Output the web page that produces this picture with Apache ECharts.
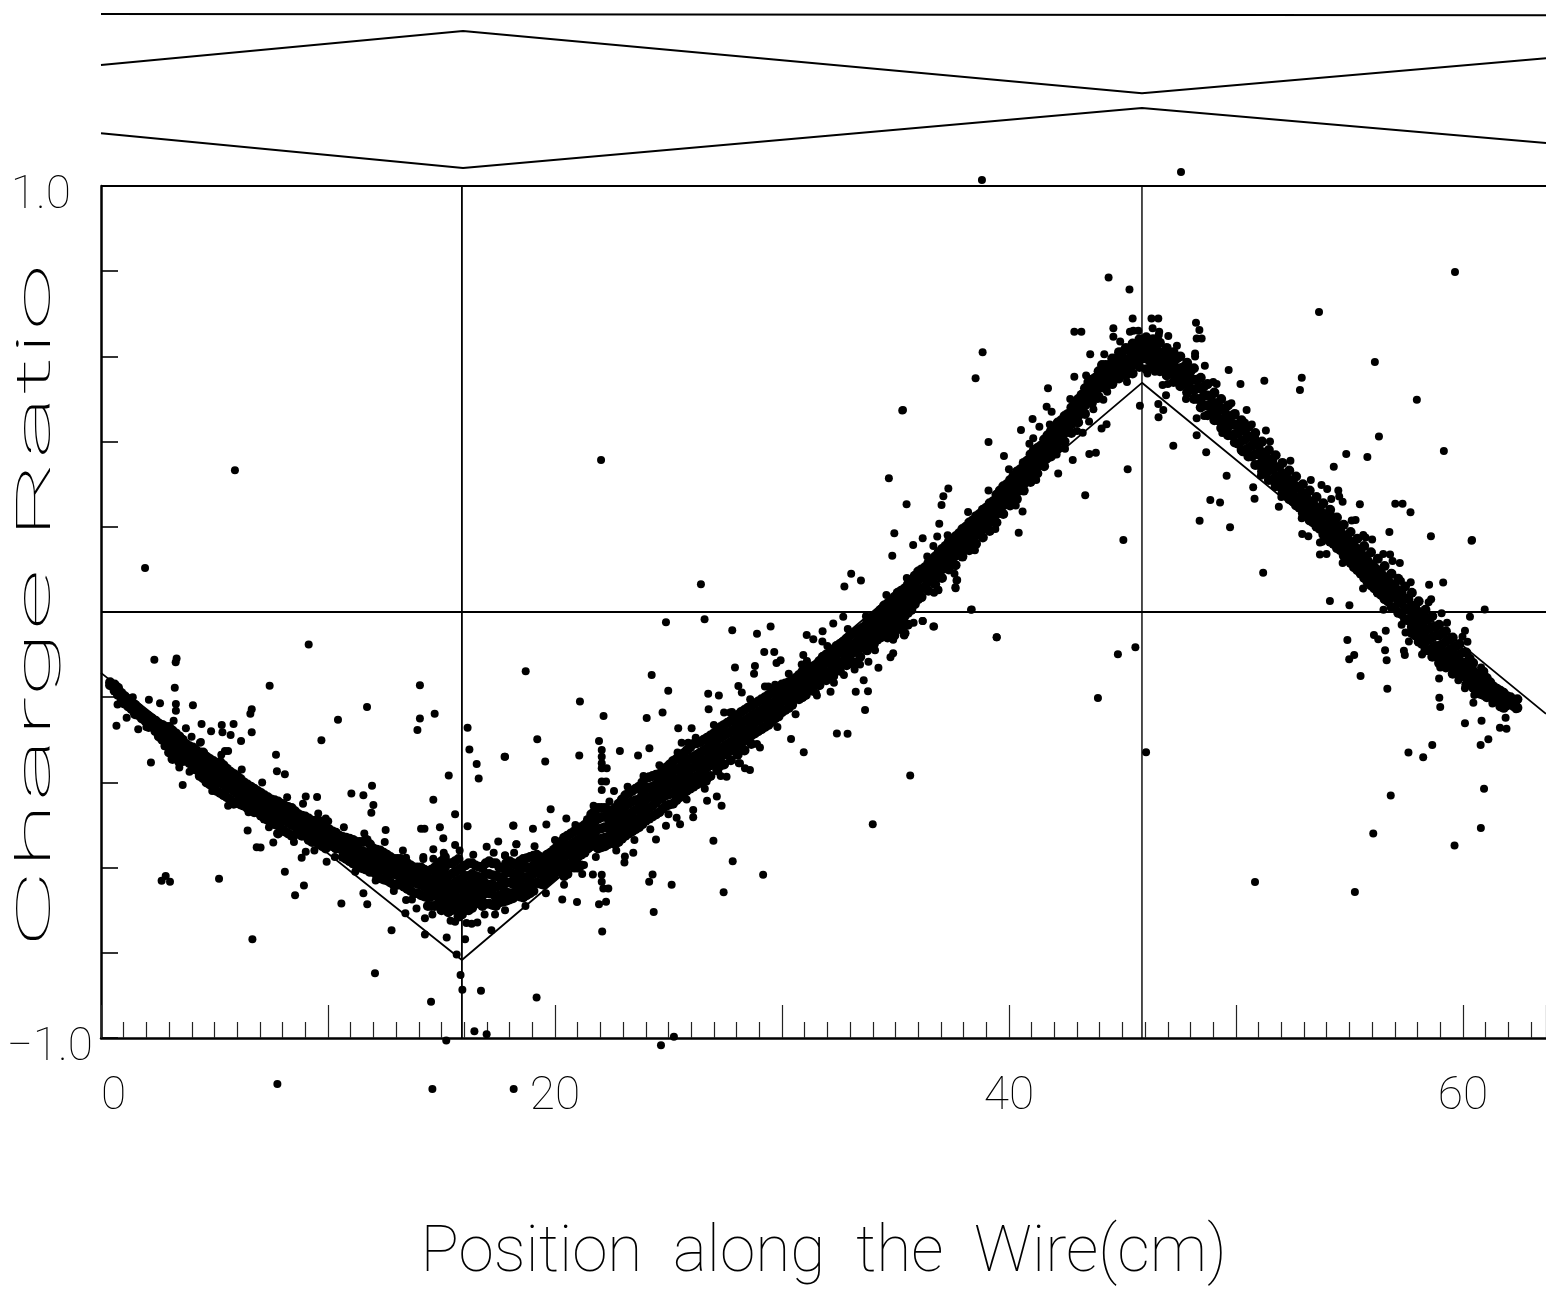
<!DOCTYPE html>
<html><head><meta charset="utf-8">
<style>html,body{margin:0;padding:0;background:#fff}#c{width:1546px;height:1297px}</style>
<script src="https://cdn.jsdelivr.net/npm/echarts@6/dist/echarts.min.js"></script>
</head><body><div id="c"></div>
<script>
const xTitle = "Position  along  the  Wire(cm)";
const yTitle = "Charge Ratio";
const xTickLabels = [0, 20, 40, 60];
const yTickLabels = [-1, 1];
const vLines = [15.9, 45.86];
const fitLine = [[0,-.143],[15.9,-.817],[45.86,.538],[63.66,-.239]];
const topLine1 = [[0,1.404],[63.66,1.401]];
const topLine2 = [[0,1.284],[15.95,1.364],[45.86,1.218],[63.66,1.30]];
const topLine3 = [[0,1.124],[15.95,1.042],[45.86,1.183],[63.66,1.101]];

// dense ridge, per column: [x, y, y, ...]
const bandLeft = [[.4,-.165,-.172],[.6,-.17,-.185],[.9,-.19,-.2,-.212],[1.2,-.205,-.222],[1.5,-.218,-.232,-.24],[1.8,-.235,-.25],[2.1,-.245,-.26,-.27],[2.4,-.255,-.27,-.28],[2.7,-.265,-.285,-.3],[3,-.27,-.285,-.305,-.33],[3.3,-.285,-.3,-.32,-.34],[3.6,-.3,-.32,-.335,-.35],[3.9,-.315,-.33,-.355],[4.2,-.325,-.345,-.36,-.37],[4.5,-.33,-.355,-.37,-.39],[4.8,-.345,-.365,-.385,-.405],[5.1,-.36,-.38,-.395,-.42],[5.4,-.36,-.385,-.405,-.43],[5.7,-.375,-.395,-.41,-.44],[6,-.385,-.405,-.425,-.445],[6.3,-.4,-.415,-.435,-.455],[6.6,-.41,-.43,-.445,-.465],[6.9,-.42,-.44,-.455,-.47],[7.2,-.43,-.445,-.46,-.485],[7.5,-.44,-.455,-.47,-.49],[7.8,-.445,-.46,-.48,-.5,-.52],[8.1,-.455,-.475,-.49,-.515],[8.4,-.46,-.48,-.5,-.525],[8.7,-.475,-.49,-.505,-.52],[9,-.48,-.495,-.51,-.525],[9.3,-.49,-.505,-.52,-.54],[9.6,-.49,-.51,-.53,-.545],[9.9,-.51,-.525,-.54,-.555],[10.2,-.515,-.535,-.55],[10.5,-.525,-.54,-.555],[10.8,-.53,-.55,-.565,-.58],[11.1,-.535,-.555,-.57,-.59],[11.4,-.54,-.56,-.58,-.6],[11.7,-.535,-.565,-.585,-.605],[12,-.555,-.575,-.59,-.61],[12.3,-.56,-.58,-.6,-.625],[12.6,-.57,-.59,-.61,-.63],[12.9,-.58,-.595,-.615,-.64],[13.2,-.58,-.6,-.62,-.64],[13.5,-.59,-.61,-.63,-.65],[13.8,-.6,-.615,-.635,-.66],[14.1,-.6,-.62,-.64,-.665],[14.4,-.61,-.63,-.65,-.67,-.69],[14.7,-.6,-.625,-.645,-.665,-.69]];
const bandValley = [[15,-.585,-.61,-.635,-.66,-.68,-.7],[15.3,-.59,-.62,-.64,-.66,-.685,-.705],[15.6,-.585,-.61,-.635,-.655,-.675,-.695],[15.9,-.6,-.625,-.65,-.67,-.69,-.71],[16.2,-.59,-.62,-.645,-.665,-.685,-.7],[16.5,-.595,-.62,-.64,-.66,-.685],[16.8,-.6,-.625,-.645,-.665,-.69],[17.1,-.585,-.615,-.64,-.66,-.685],[17.4,-.59,-.62,-.645,-.67,-.69],[17.7,-.6,-.625,-.645,-.665,-.68],[18,-.585,-.61,-.635,-.66,-.675],[18.3,-.595,-.62,-.64,-.655],[18.6,-.58,-.6,-.625,-.65,-.67],[18.9,-.575,-.6,-.62,-.64,-.66],[19.2,-.57,-.59,-.61,-.635],[19.5,-.58,-.6,-.62,-.64],[19.8,-.565,-.585,-.605,-.625]];
const bandRise = [[20.1,-.55,-.575,-.595,-.61],[20.4,-.53,-.55,-.575,-.6,-.62],[20.7,-.52,-.545,-.565,-.59],[21,-.51,-.535,-.555,-.575,-.6],[21.3,-.5,-.52,-.545,-.565],[21.6,-.475,-.5,-.525,-.55],[21.9,-.46,-.485,-.51,-.535,-.555],[22.2,-.46,-.48,-.505,-.53,-.55],[22.5,-.47,-.49,-.51,-.53],[22.8,-.45,-.47,-.495,-.52,-.54],[23.1,-.43,-.455,-.48,-.505,-.525],[23.4,-.42,-.445,-.47,-.49,-.515],[23.7,-.41,-.44,-.46,-.485,-.505],[24,-.39,-.415,-.44,-.465,-.49],[24.3,-.385,-.41,-.43,-.455,-.48],[24.6,-.38,-.4,-.42,-.44,-.47],[24.9,-.365,-.39,-.41,-.43,-.455],[25.2,-.35,-.375,-.4,-.425,-.45],[25.5,-.34,-.365,-.39,-.41,-.435],[25.8,-.325,-.35,-.375,-.395,-.42],[26.1,-.31,-.34,-.365,-.39,-.41],[26.4,-.305,-.33,-.355,-.38,-.4],[26.7,-.295,-.32,-.345,-.365,-.39],[27,-.285,-.305,-.33,-.355],[27.3,-.27,-.295,-.32,-.34,-.36],[27.6,-.26,-.285,-.31,-.33],[27.9,-.25,-.275,-.3,-.32],[28.2,-.235,-.26,-.285,-.31],[28.5,-.225,-.25,-.275,-.295],[28.8,-.215,-.24,-.26,-.285],[29.1,-.205,-.23,-.25,-.275],[29.4,-.195,-.22,-.24,-.265],[29.7,-.185,-.21,-.23,-.25],[30,-.17,-.19,-.21,-.235],[30.3,-.165,-.185,-.205,-.225],[30.6,-.155,-.175,-.195],[30.9,-.14,-.16,-.18,-.2],[31.2,-.13,-.15,-.17],[31.5,-.125,-.145,-.165],[31.8,-.105,-.125,-.145],[32.1,-.095,-.115,-.14],[32.4,-.08,-.1,-.125],[32.7,-.07,-.09,-.115],[33,-.055,-.08,-.1,-.12],[33.3,-.045,-.07,-.09],[33.6,-.035,-.055,-.08],[33.9,-.015,-.04,-.06,-.08],[34.2,-.005,-.025,-.05,-.065],[34.5,.015,-.01,-.03,-.05],[34.8,.025,.005,-.02,-.04],[35.1,.045,.02,0,-.02,-.04],[35.4,.055,.035,.01,-.01,-.05],[35.7,.075,.05,.03,.005],[36,.095,.075,.05,.03],[36.3,.105,.085,.06],[36.6,.12,.1,.08],[36.9,.14,.115,.09],[37.2,.155,.13,.11],[37.5,.17,.15,.125],[37.8,.185,.16,.14],[38.1,.2,.18,.155],[38.4,.215,.195,.17],[38.7,.23,.21,.19],[39,.245,.225,.2],[39.3,.26,.24,.22],[39.6,.285,.265,.24],[39.9,.3,.28,.26],[40.2,.32,.295,.275],[40.5,.335,.315,.29],[40.8,.355,.335,.31],[41.1,.38,.355,.335],[41.4,.39,.37,.35],[41.7,.415,.39,.37],[42,.435,.415,.395],[42.3,.45,.43,.41],[42.6,.465,.45,.43],[42.9,.49,.47,.45],[43.2,.51,.49,.47],[43.5,.54,.52,.5],[43.8,.55,.535,.52],[44.1,.58,.565,.55,.53],[44.4,.58,.565,.55],[44.7,.595,.575,.555],[45,.61,.59,.57],[45.3,.615,.595,.575],[45.6,.625,.605,.585],[45.9,.635,.615,.595]];
const bandFall = [[46.2,.63,.61,.59],[46.5,.62,.6,.58],[46.8,.61,.59,.57],[47.1,.6,.58,.56],[47.4,.595,.57,.55],[47.7,.575,.555,.535],[48,.565,.545,.525],[48.3,.545,.525,.5],[48.6,.53,.51,.485],[48.9,.505,.485,.465],[49.2,.49,.47,.45],[49.5,.475,.455,.435],[49.8,.46,.44,.415],[50.1,.44,.42,.395],[50.4,.425,.405,.38],[50.7,.41,.39,.365],[51,.39,.37,.345],[51.3,.37,.345,.325],[51.6,.355,.335,.31],[51.9,.34,.315,.295],[52.2,.32,.3,.28],[52.5,.305,.285,.26],[52.8,.29,.265,.245],[53.1,.27,.25,.225],[53.4,.255,.235,.21],[53.7,.24,.215,.195],[54,.225,.2,.175],[54.3,.205,.18,.16],[54.6,.19,.165,.145],[54.9,.175,.15,.125],[55.2,.155,.13,.105],[55.5,.14,.115,.09],[55.8,.12,.095,.07],[56.1,.105,.08,.055],[56.4,.09,.065,.04],[56.7,.075,.05,.025],[57,.06,.035,.01],[57.3,.045,.02,-.005],[57.6,.03,.005,-.02],[57.9,.01,-.015,-.04,-.055],[58.2,-.005,-.03,-.055,-.075],[58.5,-.015,-.04,-.065,-.09],[58.8,-.035,-.055,-.08,-.1],[59.1,-.05,-.075,-.095,-.11],[59.4,-.065,-.09,-.11,-.125],[59.7,-.08,-.105,-.125,-.14],[60,-.095,-.12,-.14,-.15],[60.3,-.11,-.13,-.15,-.16],[60.6,-.145,-.16,-.18],[60.9,-.14,-.17,-.195],[61.2,-.165,-.185,-.19],[61.5,-.18,-.195,-.205],[61.8,-.19,-.21,-.225],[62.1,-.2,-.215],[62.4,-.205,-.225]];
const fillLeft = [[.75,-.178,-.195],[1.05,-.198,-.215],[1.35,-.212,-.228],[1.65,-.226,-.242],[1.95,-.24,-.255],[2.25,-.25,-.268],[2.55,-.262,-.278,-.292],[2.85,-.27,-.295,-.312],[3.15,-.278,-.295,-.315,-.345],[3.45,-.292,-.31,-.33,-.352],[3.75,-.31,-.325,-.345],[4.05,-.318,-.338,-.36],[4.35,-.33,-.35,-.368,-.385],[4.65,-.34,-.36,-.38,-.4],[4.95,-.35,-.372,-.39,-.41],[5.25,-.352,-.375,-.4,-.425],[5.55,-.368,-.39,-.415,-.435],[5.85,-.38,-.4,-.42,-.45],[6.15,-.392,-.41,-.43,-.452],[6.45,-.405,-.422,-.44,-.46],[6.75,-.415,-.435,-.45,-.47],[7.05,-.425,-.442,-.46,-.478],[7.35,-.435,-.45,-.468,-.488],[7.65,-.442,-.46,-.478,-.498],[7.95,-.45,-.468,-.485,-.51],[8.25,-.458,-.478,-.495,-.52],[8.55,-.468,-.485,-.502,-.522],[8.85,-.478,-.495,-.51,-.525],[9.15,-.485,-.5,-.515,-.535],[9.45,-.49,-.51,-.525,-.54],[9.75,-.5,-.52,-.535,-.55],[10.05,-.51,-.53,-.545],[10.35,-.518,-.538,-.555],[10.65,-.528,-.545,-.56,-.575],[10.95,-.532,-.552,-.57,-.585],[11.25,-.54,-.558,-.575,-.595],[11.55,-.54,-.562,-.582,-.602],[11.85,-.545,-.57,-.59,-.61],[12.15,-.558,-.578,-.596,-.618],[12.45,-.565,-.585,-.605,-.628],[12.75,-.575,-.592,-.612,-.635],[13.05,-.58,-.598,-.618,-.64],[13.35,-.585,-.605,-.625,-.645],[13.65,-.595,-.612,-.632,-.655],[13.95,-.6,-.618,-.638,-.66],[14.25,-.605,-.625,-.645,-.668],[14.55,-.605,-.628,-.648,-.668,-.69],[14.85,-.59,-.615,-.64,-.662,-.685]];
const fillValley = [[15.15,-.575,-.6,-.625,-.65,-.67,-.695],[15.45,-.59,-.615,-.64,-.66,-.68,-.7],[15.75,-.58,-.605,-.63,-.65,-.672,-.692,-.715],[16.05,-.595,-.62,-.64,-.66,-.68,-.7],[16.35,-.59,-.615,-.635,-.655,-.675,-.695],[16.65,-.598,-.622,-.642,-.662,-.68],[16.95,-.59,-.615,-.638,-.66,-.685],[17.25,-.59,-.618,-.64,-.662,-.688],[17.55,-.6,-.622,-.642,-.665,-.682],[17.85,-.59,-.612,-.635,-.658,-.678],[18.15,-.59,-.615,-.638,-.66,-.672],[18.45,-.585,-.61,-.632,-.652,-.668],[18.75,-.578,-.6,-.622,-.645,-.665],[19.05,-.572,-.595,-.615,-.638,-.655],[19.35,-.575,-.595,-.615,-.638],[19.65,-.57,-.592,-.612,-.632],[19.95,-.558,-.58,-.6,-.62]];
const fillRise = [[20.25,-.54,-.562,-.585,-.605],[20.55,-.525,-.548,-.57,-.595,-.615],[20.85,-.515,-.54,-.56,-.582,-.6],[21.15,-.505,-.528,-.55,-.57,-.595],[21.45,-.488,-.51,-.535,-.555],[21.75,-.468,-.492,-.518,-.542],[22.05,-.46,-.482,-.508,-.532,-.552],[22.35,-.465,-.485,-.508,-.53,-.545],[22.65,-.46,-.48,-.502,-.525,-.545],[22.95,-.44,-.462,-.488,-.512,-.532],[23.25,-.425,-.45,-.475,-.498,-.52],[23.55,-.415,-.442,-.465,-.488,-.51],[23.85,-.4,-.428,-.45,-.475,-.498],[24.15,-.388,-.412,-.435,-.46,-.485],[24.45,-.382,-.405,-.425,-.448,-.475],[24.75,-.372,-.395,-.415,-.435,-.462],[25.05,-.358,-.382,-.405,-.428,-.452],[25.35,-.345,-.37,-.395,-.418,-.442],[25.65,-.332,-.358,-.382,-.402,-.428],[25.95,-.318,-.345,-.37,-.392,-.415],[26.25,-.308,-.335,-.36,-.385,-.405],[26.55,-.3,-.325,-.35,-.372,-.395],[26.85,-.29,-.312,-.338,-.36,-.385],[27.15,-.278,-.3,-.325,-.348,-.372],[27.45,-.265,-.29,-.315,-.335,-.358],[27.75,-.255,-.28,-.305,-.325,-.348],[28.05,-.242,-.268,-.292,-.315,-.335],[28.35,-.23,-.255,-.28,-.302,-.325],[28.65,-.22,-.245,-.268,-.29,-.31],[28.95,-.21,-.235,-.255,-.28],[29.25,-.2,-.225,-.245,-.27],[29.55,-.19,-.215,-.235,-.258],[29.85,-.178,-.2,-.222,-.245],[30.15,-.168,-.188,-.208,-.23],[30.45,-.16,-.18,-.2,-.218],[30.75,-.148,-.168,-.188,-.205],[31.05,-.135,-.155,-.175,-.195],[31.35,-.128,-.148,-.168,-.185],[31.65,-.115,-.135,-.155,-.172],[31.95,-.1,-.12,-.142,-.16],[32.25,-.088,-.108,-.132,-.15],[32.55,-.075,-.095,-.12,-.138],[32.85,-.062,-.085,-.108,-.125],[33.15,-.05,-.075,-.095,-.118],[33.45,-.04,-.062,-.085,-.105],[33.75,-.025,-.048,-.07,-.09],[34.05,-.01,-.032,-.055,-.075],[34.35,.005,-.018,-.04,-.06],[34.65,.02,-.005,-.025,-.045,-.06],[34.95,.035,.012,-.01,-.03,-.055],[35.25,.05,.028,.005,-.015,-.04],[35.55,.065,.042,.02,-.002,-.03],[35.85,.085,.062,.04,.018],[36.15,.1,.08,.055,.035],[36.45,.115,.092,.07,.05],[36.75,.13,.108,.085,.065],[37.05,.148,.122,.1,.08],[37.35,.165,.14,.118,.1],[37.65,.178,.155,.132,.11],[37.95,.195,.17,.148,.13],[38.25,.21,.188,.162,.145],[38.55,.225,.202,.18,.16],[38.85,.24,.218,.195,.175],[39.15,.255,.232,.21,.19],[39.45,.275,.252,.23,.21],[39.75,.295,.272,.25,.23],[40.05,.31,.288,.268,.25],[40.35,.33,.305,.282,.265],[40.65,.35,.325,.3,.285],[40.95,.37,.345,.322,.305],[41.25,.385,.362,.342,.325],[41.55,.405,.38,.36,.342],[41.85,.425,.402,.382,.365],[42.15,.445,.422,.402,.385],[42.45,.46,.44,.42,.4],[42.75,.48,.46,.44,.42],[43.05,.5,.48,.46,.445],[43.35,.525,.505,.485,.465],[43.65,.545,.528,.51,.49],[43.95,.565,.545,.525,.505],[44.25,.58,.562,.54,.525],[44.55,.595,.572,.552,.535],[44.85,.61,.585,.565,.548],[45.15,.62,.592,.572,.555],[45.45,.63,.6,.58,.56],[45.75,.64,.615,.592,.575],[46.05,.645,.618,.595,.57]];
const fillFall = [[46.35,.64,.615,.592,.575],[46.65,.632,.605,.585,.565],[46.95,.62,.595,.575,.555],[47.25,.61,.585,.56,.54],[47.55,.6,.572,.55,.53],[47.85,.585,.558,.535,.515],[48.15,.572,.545,.52,.5],[48.45,.55,.525,.5,.48],[48.75,.535,.508,.485,.462],[49.05,.515,.49,.468,.45],[49.35,.5,.478,.452,.432],[49.65,.485,.46,.435,.415],[49.95,.465,.44,.418,.398],[50.25,.45,.428,.402,.38],[50.55,.435,.412,.385,.365],[50.85,.42,.395,.37,.345],[51.15,.4,.375,.352,.33],[51.45,.38,.358,.332,.31],[51.75,.368,.34,.318,.295],[52.05,.35,.325,.305,.28],[52.35,.332,.31,.288,.265],[52.65,.318,.295,.27,.25],[52.95,.3,.278,.255,.232],[53.25,.285,.26,.24,.215],[53.55,.27,.245,.222,.2],[53.85,.255,.23,.205,.182],[54.15,.24,.212,.188,.165],[54.45,.222,.198,.172,.15],[54.75,.205,.18,.158,.132],[55.05,.188,.165,.14,.115],[55.35,.172,.148,.122,.098],[55.65,.155,.13,.105,.08],[55.95,.14,.112,.088,.062],[56.25,.125,.098,.07,.045],[56.55,.108,.082,.055,.03],[56.85,.09,.065,.04,.012],[57.15,.078,.05,.025,-.002],[57.45,.06,.032,.008,-.018],[57.75,.045,.015,-.01,-.035,-.05],[58.05,.025,0,-.025,-.05,-.07],[58.35,.005,-.02,-.045,-.07,-.09],[58.65,-.01,-.035,-.06,-.085,-.105],[58.95,-.03,-.055,-.08,-.1,-.12],[59.25,-.045,-.07,-.095,-.115,-.13],[59.55,-.06,-.085,-.11,-.13,-.145],[59.85,-.075,-.1,-.125,-.145],[60.15,-.095,-.118,-.14,-.155,-.17],[60.45,-.12,-.138,-.16,-.178],[60.75,-.15,-.175,-.192],[61.05,-.155,-.178,-.2],[61.35,-.175,-.195,-.21],[61.65,-.185,-.205,-.222],[61.95,-.198,-.218],[62.25,-.208,-.222]];
// ragged points along the two edges of the ridge
const bandEdges = [[1.4,-.2],[2,-.27],[2.8,-.315],[3.2,-.255],[3.9,-.375],[4.4,-.305],[4.9,-.42],[5.3,-.335],[5.6,-.455],[6.2,-.37],[6.5,-.47],[7.1,-.4],[7.4,-.505],[8.2,-.435],[8.5,-.54],[8.9,-.45],[9.4,-.56],[9.9,-.485],[10.3,-.575],[10.7,-.505],[11.2,-.61],[11.6,-.52],[12.1,-.63],[12.5,-.54],[12.9,-.655],[13.3,-.56],[13.7,-.675],[14.2,-.58],[14.6,-.71],[15.1,-.565],[15.4,-.725],[15.8,-.56],[16.1,-.73],[16.4,-.57],[16.9,-.71],[17.3,-.565],[17.8,-.7],[18.2,-.565],[18.7,-.69],[19.1,-.55],[19.6,-.66],[20,-.535],[20.4,-.64],[20.9,-.5],[21.2,-.615],[21.7,-.455],[21.8,-.575],[22.4,-.445],[22.7,-.56],[23.2,-.41],[23.5,-.535],[23.9,-.385],[24.2,-.51],[24.6,-.36],[25,-.475],[25.4,-.33],[25.8,-.44],[26.2,-.295],[26.6,-.415],[27,-.265],[27.3,-.385],[27.8,-.235],[28.1,-.355],[28.6,-.205],[28.9,-.31],[29.4,-.175],[29.8,-.27],[30.3,-.145],[30.6,-.24],[31.1,-.115],[31.5,-.19],[32,-.08],[32.3,-.15],[32.9,-.04],[33.2,-.135],[33.7,-.01],[34.1,-.09],[34.6,.04],[34.9,-.065],[35.5,.08],[35.8,-.025],[36.4,.13],[36.7,.045],[37.3,.18],[37.6,.09],[38.2,.235],[38.5,.145],[39.1,.285],[39.4,.195],[40,.335],[40.3,.25],[40.9,.395],[41.2,.31],[41.8,.44],[42.1,.37],[42.7,.5],[43,.425],[43.4,.555],[43.9,.5],[44.2,.605],[44.9,.635],[45.2,.54],[45.7,.66],[46.1,.56],[46.6,.65],[47,.535],[47.4,.625],[47.8,.5],[48.2,.6],[48.6,.46],[49,.54],[49.4,.42],[49.8,.49],[50.3,.375],[50.7,.44],[51.1,.32],[51.5,.4],[52,.27],[52.4,.355],[52.9,.22],[53.3,.31],[53.8,.165],[54.2,.265],[54.7,.115],[55.1,.215],[55.6,.055],[56,.17],[56.5,.005],[56.9,.12],[57.3,-.03],[57.7,.07],[58.2,-.1],[58.6,.03],[59,-.13],[59.3,-.025],[59.8,-.16],[60.2,-.07],[60.5,-.195],[60.8,-.13],[61.3,-.215]];

// scattered points read individually
const outliersLeft = [[9.15,-.076],[2.35,-.112],[3.33,-.109],[3.29,-.118],[3.25,-.178],[7.43,-.173],[14.05,-.172],[11.72,-.223],[14.7,-.239],[14.05,-.25],[10.44,-.253],[16.15,-.272],[13.94,-.277],[2.11,-.206],[2.6,-.214],[3.3,-.216],[3.3,-.232],[4.05,-.219],[.73,-.217],[1.13,-.248],[.68,-.267],[1.64,-.275],[6.64,-.228],[6.58,-.239],[4.43,-.263],[3.74,-.273],[4.85,-.28],[5.32,-.265],[5.35,-.282],[5.71,-.289],[5.84,-.263],[6.64,-.282],[6.17,-.303],[3.99,-.293],[4.36,-.307],[9.71,-.301],[16.23,-.323],[17.8,-.34],[16.55,-.357],[16.64,-.391],[15.32,-.384],[2.2,-.353],[3.45,-.365],[3.6,-.406],[7.71,-.335],[7.75,-.374],[8.1,-.381],[5.46,-.326],[5.6,-.326],[11.94,-.408],[11.03,-.426],[11.56,-.43],[12,-.453],[11.91,-.471],[9.02,-.433],[9.52,-.434],[9.57,-.473],[10.01,-.491],[14.64,-.441],[15.6,-.475],[16.15,-.503],[14.93,-.505],[14.1,-.509],[14.25,-.509],[12.54,-.512],[18.16,-.502],[6.46,-.513],[7.59,-.541],[6.86,-.552],[7.03,-.553],[8.84,-.577],[9.02,-.563],[9.94,-.586],[8.1,-.61],[8.94,-.642],[8.55,-.665],[5.2,-.626],[2.85,-.62],[2.67,-.631],[3.04,-.633],[10.59,-.684],[11.73,-.686],[11.56,-.66],[12.8,-.747],[6.67,-.768],[13.41,-.707],[14.27,-.757],[15.23,-.764],[12.07,-.848],[15.67,-.804],[15.84,-.852],[15.92,-.887],[16.74,-.889],[14.54,-.915],[16.45,-.984],[16.99,-.991],[15.21,-1.006],[7.77,-1.108],[14.6,-1.12],[18.18,-1.12],[15.08,-.531],[15.6,-.547],[14.64,-.557],[14.2,-.575],[14.64,-.579],[13.44,-.577],[16.99,-.551],[17.5,-.539],[17.8,-.572],[18.3,-.545],[14.27,-.719],[16.33,-.732],[16.58,-.729],[17.36,-.71],[17.2,-.747],[16.04,-.768],[15.6,-.727],[13.9,-.696],[13.44,-.676],[5.9,.333],[1.94,.103]];
const outliersMid = [[26.43,.065],[33.05,.09],[32.75,.06],[33.48,.074],[24.89,-.024],[26.59,-.017],[27.81,-.043],[28.9,-.051],[29.5,-.034],[18.71,-.139],[21.1,-.21],[24.26,-.148],[24.99,-.185],[22.14,-.244],[24.04,-.249],[24.74,-.236],[26.75,-.192],[27.22,-.196],[26.77,-.228],[27.93,-.13],[28.81,-.127],[28.77,-.145],[29.22,-.094],[29.66,-.094],[29.76,-.12],[29.94,-.113],[19.22,-.299],[21.94,-.303],[21.07,-.337],[17.78,-.34],[19.57,-.351],[22.86,-.326],[23.66,-.337],[24.16,-.32],[22.06,-.324],[22.06,-.34],[22.06,-.355],[22.28,-.367],[22.06,-.367],[22.06,-.398],[22.25,-.398],[22.06,-.418],[22.6,-.42],[19.81,-.463],[20.5,-.485],[18.17,-.501],[19.03,-.509],[19.62,-.499],[18.3,-.545],[17.8,-.571],[23.45,-.565],[23.08,-.574],[23.06,-.588],[24.45,-.534],[24.89,-.502],[25.36,-.483],[25.51,-.498],[26.09,-.465],[26.09,-.482],[26.7,-.443],[27.13,-.433],[27.34,-.455],[26.98,-.537],[27.83,-.585],[29.17,-.617],[27.43,-.658],[25.14,-.64],[24.3,-.616],[24.15,-.633],[24.35,-.704],[20.32,-.675],[20.97,-.681],[21.28,-.594],[21.67,-.616],[22.06,-.617],[22.06,-.633],[22.13,-.649],[22.35,-.649],[21.94,-.686],[22.25,-.68],[22.08,-.75],[19.19,-.905],[25.24,-.997],[24.67,-1.017],[35.65,-.384],[34,-.498],[32.42,-.285],[32.89,-.286],[30.4,-.298],[30.96,-.329],[33.66,-.23],[33.25,-.187],[33.79,-.186],[33.6,-.16],[32.29,-.166],[32.14,-.187],[31.54,-.196],[34.25,-.131],[33.81,-.117],[33.44,-.123],[32.73,-.148],[34.78,-.106],[34.9,-.097],[35.39,-.028],[35.39,-.055],[36.2,-.021],[36.67,-.034],[38.33,.005],[39.46,-.059],[36.89,.051],[37.69,.074],[37.65,.056],[29.25,-.175],[29.7,-.171],[28.08,-.174],[28.23,-.189],[31.09,-.054],[31.38,-.064],[31.78,-.069],[31.79,-.045],[32.26,-.027],[32.7,-.011],[30.94,-.101],[30.87,-.123],[26.02,-.273],[25.43,-.273],[25.58,-.307],[25.87,-.307],[27.71,-.236],[27.45,-.236],[29.03,-.318],[28.37,-.367],[28.59,-.371],[28.15,-.355],[27.56,-.387],[26.68,-.398],[22.03,.357]];
const outliersPeak = [[44.39,.785],[45.31,.757],[45.45,.689],[46.28,.689],[46.58,.689],[44.6,.666],[44.6,.646],[42.88,.658],[43.19,.658],[45.33,.658],[45.48,.66],[46.33,.666],[46.62,.658],[47.02,.648],[48.24,.679],[48.39,.662],[48.27,.642],[48.49,.642],[48.2,.607],[48.63,.578],[49.68,.568],[49.15,.535],[50.2,.535],[51.25,.543],[50.47,.474],[50.4,.444],[51.32,.426],[50.85,.408],[49.96,.461],[38.84,.61],[38.53,.549],[35.3,.473],[39.1,.399],[34.71,.314],[35.49,.253],[34.95,.185],[34.86,.132],[37.33,.29],[37.11,.272],[37.03,.251],[36.93,.207],[36.84,.177],[36.2,.173],[35.78,.157],[36.67,.155],[37.72,.075],[37.64,.058],[36.89,.052],[38.36,.006],[35.35,-.028],[35.37,-.054],[36.2,-.021],[36.7,-.034],[39.46,-.059],[40.6,.236],[40.43,.186],[39.78,.366],[40.53,.427],[41.04,.453],[41.34,.435],[41.07,.408],[41.72,.525],[41.66,.482],[41.88,.47],[42.88,.552],[43.58,.605],[41.66,.358],[42.47,.383],[42.81,.357],[42.17,.325],[41,.308],[43.25,.421],[43.53,.447],[44.08,.431],[44.3,.441],[43.72,.476],[44.16,.498],[44.33,.517],[44.6,.537],[43.54,.371],[43.83,.374],[43.36,.274],[45.23,.335],[45.04,.169],[45.77,.484],[45.57,-.083],[46.58,.488],[46.8,.474],[46.59,.457],[46.92,.509],[46.77,.533],[46.43,.564],[47.24,.39],[48.27,.415],[48.27,.455],[48.69,.375],[49.59,.32],[48.87,.263],[49.3,.257],[48.4,.214],[49.74,.199],[51.2,.092],[50.76,.293],[50.82,.266],[51.89,.247],[46.04,-.329],[44.8,-.099],[43.92,-.202],[47.58,1.033],[38.81,1.014]];
const outliersRight = [[59.65,.798],[53.66,.704],[35.33,.474],[56.12,.587],[57.97,.498],[52.82,.521],[52.9,.55],[50.84,-.634],[55.24,-.657],[60.4,.169],[56.3,.412],[59.16,.378],[54.86,.371],[55.79,.364],[54.31,.341],[53.77,.298],[54.02,.289],[54.51,.285],[54.55,.271],[54.7,.259],[55.46,.253],[57.02,.254],[57.34,.254],[57.69,.234],[54.18,.229],[55.27,.216],[54.36,.204],[54.58,.204],[56.76,.188],[58.59,.178],[60.38,.167],[55.61,.181],[55.71,.175],[52.92,.183],[53.19,.178],[53.7,.163],[53.7,.135],[53.99,.136],[56.49,.136],[56.79,.135],[57.22,.115],[58.51,.064],[59.13,.069],[57.27,.073],[54.14,.026],[55,.016],[58.49,.023],[60.96,.006],[59.06,-.003],[60.31,-.011],[60.09,-.044],[59.98,-.058],[54.91,-.066],[56.08,-.054],[56.27,-.064],[56.6,-.044],[57.47,-.048],[57.62,-.069],[56.57,-.09],[57.4,-.091],[57.44,-.101],[56.64,-.113],[55.21,-.101],[54.99,-.111],[55.49,-.15],[56.67,-.18],[58.77,-.105],[58.95,-.156],[58.96,-.201],[59,-.223],[60.09,-.179],[60.46,-.213],[60.09,-.261],[60.82,-.255],[61.88,-.248],[61.63,-.272],[61.92,-.274],[61.12,-.299],[60.78,-.312],[58.65,-.312],[57.6,-.33],[58.25,-.341],[60.93,-.415],[56.82,-.431],[56.05,-.52],[60.79,-.507],[59.63,-.548],[61.34,-.195],[61.78,-.187],[61.56,-.206],[61.92,-.222],[62.34,-.213],[62.34,-.228]];

const columns = [...bandLeft, ...bandValley, ...bandRise, ...bandFall, ...fillLeft, ...fillValley, ...fillRise, ...fillFall];
const bandPoints = columns.flatMap(c => c.slice(1).map(y => [c[0], y]));
const loosePoints = [...bandEdges, ...outliersLeft, ...outliersMid, ...outliersPeak, ...outliersRight];

const XMAX = 63.66;
const ink = '#000';
const thin = {fontFamily:'Roboto', fontWeight:100, color:'#000'};
const line = (data, width) => ({type:'line', data, symbol:'none', clip:false, silent:true, animation:false,
  lineStyle:{color:ink, width}, z:3});
const dots = (name, data, size) => ({type:'scatter', name, data, symbol:'circle', symbolSize:size, clip:false, large:false, progressive:0,
  itemStyle:{color:ink, opacity:1}, silent:true, animation:false, z:4});

const chart = echarts.init(document.getElementById('c'), null, {renderer:'canvas'});
chart.setOption({
  animation:false,
  backgroundColor:'#fff',
  grid:{left:101, top:186, width:1445, height:852, containLabel:false, outerBoundsMode:'none'},
  xAxis:{type:'value', min:0, max:XMAX, interval:10,
    axisLine:{show:true, onZero:false, lineStyle:{color:ink, width:2.5}},
    axisTick:{show:true, inside:true, length:33, lineStyle:{color:'#222', width:1.2}},
    minorTick:{show:true, splitNumber:10, length:16, lineStyle:{color:'#222', width:1.2}},
    splitLine:{show:false},
    axisLabel:{...thin, margin:36, fontSize:46, alignMinLabel:'left',
      formatter:v => xTickLabels.includes(v) ? String(v) : ''},
    name:xTitle, nameLocation:'middle', nameGap:185,
    nameTextStyle:{...thin, fontSize:64}
  },
  yAxis:{type:'value', min:-1, max:1, interval:.2,
    axisLine:{show:true, onZero:false, lineStyle:{color:ink, width:2.5}},
    axisTick:{show:true, inside:true, length:17, lineStyle:{color:ink, width:1.6}},
    splitLine:{show:false},
    axisLabel:{...thin, margin:8, fontSize:46, verticalAlign:'top', lineHeight:20,
      formatter:v => Math.abs(v)>.99 ? (v>0 ? '1.0  ' : '\u22121.0') : ''}
  },
  graphic:[{type:'text', x:38, y:606, rotation:Math.PI/2, scaleX:2.55, silent:true,
    style:{text:yTitle, fontFamily:'Roboto', fontWeight:100, fontSize:48, fill:'#000', textAlign:'center', textVerticalAlign:'middle'}}],
  series:[
    line(topLine1,2), line(topLine2,2), line(topLine3,2),
    line([[0,1],[XMAX,1]],2.2),
    line([[0,0],[XMAX,0]],2.2),
    line([[vLines[0],-1],[vLines[0],1]],1.8),
    line([[vLines[1],-1],[vLines[1],1]],1.4),
    line(fitLine,1.8),
    dots('ridge', bandPoints, 10),
    dots('scatter', loosePoints, 8)
  ]
});
</script></body></html>
